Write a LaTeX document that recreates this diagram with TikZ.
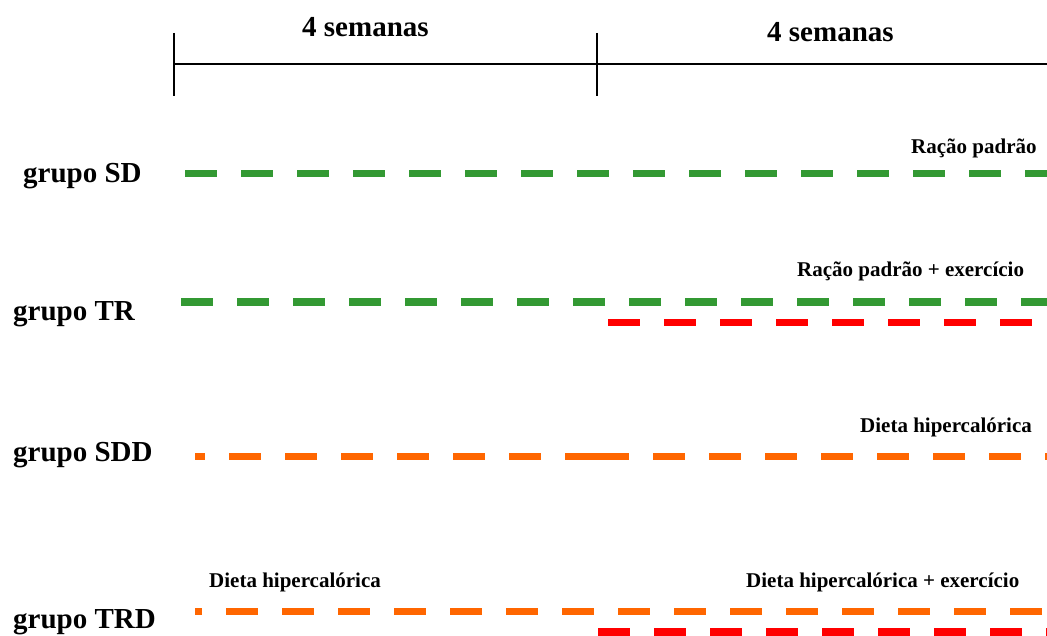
\documentclass[tikz,border=0pt]{standalone}
\usepackage{fontspec}
\setmainfont{Liberation Serif}
\definecolor{dgreen}{RGB}{51,153,51}
\definecolor{dorange}{RGB}{255,102,0}
\definecolor{dred}{RGB}{255,0,0}
\tikzset{
  big/.style={inner sep=0pt, anchor=base west, font=\fontsize{29}{34}\selectfont\bfseries},
  small/.style={inner sep=0pt, anchor=base west, font=\fontsize{21}{25}\selectfont\bfseries},
  dline/.style={line width=7.5pt, line cap=butt, dash pattern=on 32pt off 24pt},
  axis/.style={line width=1.4pt, black}
}
\begin{document}
\begin{tikzpicture}[x=1pt,y=-1pt]
\useasboundingbox (0,0) rectangle (1047,636);
\fill[white] (0,0) rectangle (1047,636);
% timeline
\coordinate (t0) at (174,64);
\coordinate (t1) at (597,64);
\coordinate (t2) at (1047,64);
\coordinate (t0a) at (174,33);
\coordinate (t0b) at (174,96);
\coordinate (t1a) at (597,33);
\coordinate (t1b) at (597,96);
\draw[axis] (t0) -- (t1) -- (t2);
\draw[axis] (t0a) -- (t0b);
\draw[axis] (t1a) -- (t1b);
\node[big] (w1) at (302,37) {4 semanas};
\node[big] (w2) at (767,42) {4 semanas};
% group labels
\node[big] (gSD) at (23,183) {grupo SD};
\node[big] (gTR) at (13,320) {grupo TR};
\node[big] (gSDD) at (13,461) {grupo SDD};
\node[big] (gTRD) at (13,628) {grupo TRD};
% line labels
\node[small] (lSD) at (911,154) {Ração padrão};
\node[small] (lTR) at (797,277) {Ração padrão + exercício};
\node[small] (lSDD) at (860,432) {Dieta hipercalórica};
\node[small] (lTRDa) at (209,587) {Dieta hipercalórica};
\node[small] (lTRDb) at (746,587) {Dieta hipercalórica + exercício};
% SD
\coordinate (sd0) at (185,173.5);
\coordinate (sd1) at (1047,173.5);
\draw[dline, dgreen] (sd0) -- (sd1);
% TR
\coordinate (tr0) at (181,302);
\coordinate (tr1) at (1047,302);
\draw[dline, dgreen] (tr0) -- (tr1);
\coordinate (trr0) at (608,322.5);
\coordinate (trr1) at (1032,322.5);
\draw[dline, dred] (trr0) -- (trr1);
% SDD
\coordinate (sdd0) at (195,456.5);
\coordinate (sdd1) at (597,456.5);
\coordinate (sdd2) at (1047,456.5);
\draw[dline, dorange, dash phase=22pt] (sdd0) -- (sdd1);
\draw[dline, dorange] (sdd1) -- (sdd2);
% TRD
\coordinate (trd0) at (195,611.5);
\coordinate (trd1) at (1042,611.5);
\draw[dline, dorange, dash phase=25pt] (trd0) -- (trd1);
\coordinate (trdr0) at (598,632);
\coordinate (trdr1) at (1047,632);
\draw[dline, dred] (trdr0) -- (trdr1);
\end{tikzpicture}
\end{document}
